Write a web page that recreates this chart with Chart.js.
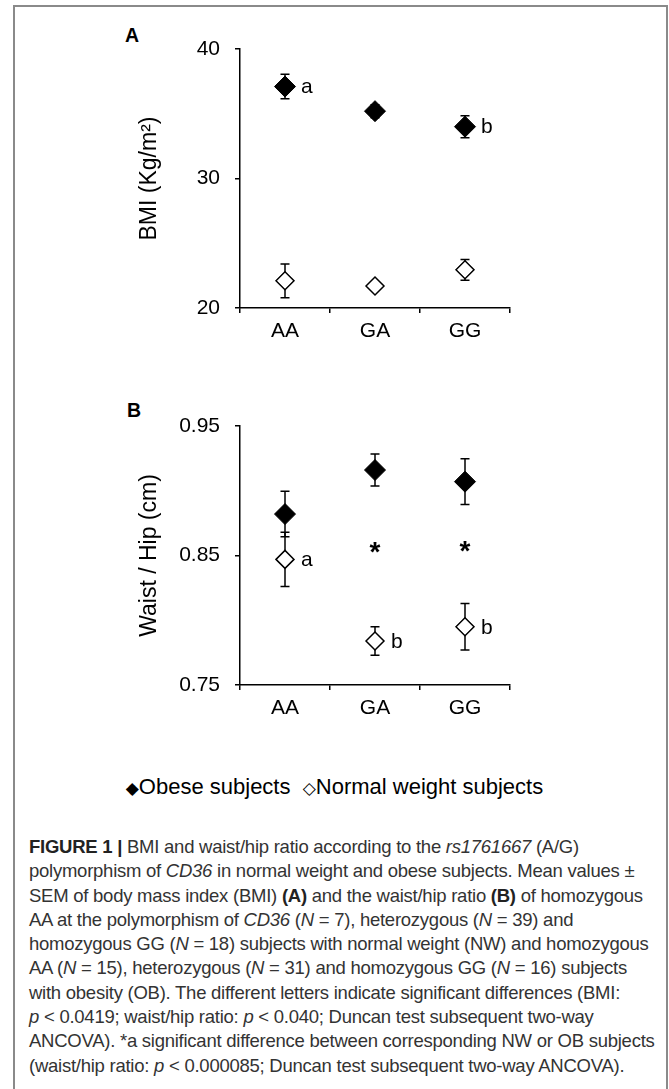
<!DOCTYPE html>
<html>
<head>
<meta charset="utf-8">
<script src="https://cdn.jsdelivr.net/npm/chart.js@4"></script>
<style>
  body { margin: 0; background: #fff; font-family: "Liberation Sans", Arial, sans-serif; }
  #page { position: relative; width: 669px; height: 1089px; overflow: hidden; background: #fff; }
  #frame { position: absolute; left: 13px; top: 5px; width: 655px; height: 1120px; border: 2px solid #8a8a8a; box-sizing: border-box; }
  .panel { position: absolute; left: 0; }
  .letter { position: absolute; font-weight: bold; font-size: 19.5px; line-height: 20px; color: #000; }
  #legend { position: absolute; top: 774px; left: 0; width: 669px; text-align: center; font-size: 22px; line-height: 26px; color: #000; white-space: nowrap; }
  #legend span.sym { font-family: "DejaVu Sans", sans-serif; font-size: 17px; }
  #caption { position: absolute; left: 29px; top: 835px; font-size: 18.5px; letter-spacing: -0.25px; line-height: 24.3px; color: #333; white-space: nowrap; }
  #caption b { color: #222; }
</style>
</head>
<body>
<div id="page">
  <div id="frame"></div>
  <div class="letter" style="left:125px;top:25px">A</div>
  <div class="letter" style="left:127px;top:400px">B</div>
  <canvas id="chartA" class="panel" width="669" height="360" style="top:0"></canvas>
  <canvas id="chartB" class="panel" width="669" height="360" style="top:377px"></canvas>
  <div id="legend"><span class="sym">◆</span>Obese subjects&nbsp;&nbsp;<span class="sym">◇</span>Normal weight subjects</div>
  <div id="caption">
    <b>FIGURE 1 |</b> BMI and waist/hip ratio according to the <i>rs1761667</i> (A/G)<br>
    polymorphism of <i>CD36</i> in normal weight and obese subjects. Mean values ±<br>
    SEM of body mass index (BMI) <b>(A)</b> and the waist/hip ratio <b>(B)</b> of homozygous<br>
    AA at the polymorphism of <i>CD36</i> (<i>N</i> = 7), heterozygous (<i>N</i> = 39) and<br>
    homozygous GG (<i>N</i> = 18) subjects with normal weight (NW) and homozygous<br>
    AA (<i>N</i> = 15), heterozygous (<i>N</i> = 31) and homozygous GG (<i>N</i> = 16) subjects<br>
    with obesity (OB). The different letters indicate significant differences (BMI:<br>
    <i>p</i> &lt; 0.0419; waist/hip ratio: <i>p</i> &lt; 0.040; Duncan test subsequent two-way<br>
    ANCOVA). *a significant difference between corresponding NW or OB subjects<br>
    (waist/hip ratio: <i>p</i> &lt; 0.000085; Duncan test subsequent two-way ANCOVA).
  </div>
</div>
<script>
  // data
  const GENOTYPES = ['AA', 'GA', 'GG'];

  const BMI_OBESE = [37.1, 35.2, 34.0];
  const BMI_OBESE_SEM = [0.95, 0.5, 0.85];
  const BMI_NORMAL = [22.1, 21.7, 22.95];
  const BMI_NORMAL_SEM = [1.3, 0.3, 0.8];
  const BMI_OBESE_LETTERS = ['a', '', 'b'];
  const BMI_NORMAL_LETTERS = ['', '', ''];
  const BMI_STARS = ['', '', ''];
  const BMI_TICKS = [20, 30, 40];

  const WHR_OBESE = [0.882, 0.916, 0.907];
  const WHR_OBESE_SEM = [0.0176, 0.0124, 0.0177];
  const WHR_NORMAL = [0.847, 0.784, 0.795];
  const WHR_NORMAL_SEM = [0.021, 0.011, 0.018];
  const WHR_OBESE_LETTERS = ['', '', ''];
  const WHR_NORMAL_LETTERS = ['a', 'b', 'b'];
  const WHR_STARS = ['', '*', '*'];
  const WHR_TICKS = [0.75, 0.85, 0.95];

  const FONT = 'Liberation Sans';

  // error bars under the markers, letters and stars on top
  const marksPlugin = {
    id: 'marks',
    beforeDatasetsDraw(chart) {
      const ctx = chart.ctx;
      const y = chart.scales.y;
      ctx.save();
      ctx.strokeStyle = '#000';
      ctx.lineWidth = 1.5;
      chart.data.datasets.forEach((ds, di) => {
        const meta = chart.getDatasetMeta(di);
        ds.data.forEach((v, i) => {
          const e = ds.errors[i];
          const px = meta.data[i].x;
          const top = y.getPixelForValue(v + e);
          const bot = y.getPixelForValue(v - e);
          ctx.beginPath();
          ctx.moveTo(px, top); ctx.lineTo(px, bot);
          ctx.moveTo(px - 4.5, top); ctx.lineTo(px + 4.5, top);
          ctx.moveTo(px - 4.5, bot); ctx.lineTo(px + 4.5, bot);
          ctx.stroke();
        });
      });
      ctx.restore();
    },
    afterDatasetsDraw(chart, args, opts) {
      const ctx = chart.ctx;
      const y = chart.scales.y;
      ctx.save();
      ctx.fillStyle = '#000';
      ctx.font = `21px "${FONT}"`;
      ctx.textBaseline = 'middle';
      ctx.textAlign = 'left';
      chart.data.datasets.forEach((ds, di) => {
        const meta = chart.getDatasetMeta(di);
        ds.letters.forEach((l, i) => {
          if (!l) return;
          const p = meta.data[i];
          ctx.fillText(l, p.x + 16, p.y + 1);
        });
      });
      ctx.textAlign = 'center';
      ctx.font = `bold 28px "${FONT}"`;
      const a = chart.data.datasets[0].data, b = chart.data.datasets[1].data;
      (opts.stars || []).forEach((s, i) => {
        if (!s) return;
        const px = chart.getDatasetMeta(0).data[i].x;
        ctx.fillText(s, px, y.getPixelForValue((a[i] + b[i]) / 2) - 2);
      });
      ctx.restore();
    }
  };

  function makeChart(id, cfg) {
    return new Chart(document.getElementById(id), {
      type: 'line',
      data: {
        labels: GENOTYPES,
        datasets: [
          { label: 'Obese subjects', data: cfg.obese, errors: cfg.obeseSem, letters: cfg.obeseLetters,
            showLine: false, pointStyle: 'rectRot', pointRadius: 10.5, pointBackgroundColor: '#000',
            pointBorderColor: '#000', pointBorderWidth: 1 },
          { label: 'Normal weight subjects', data: cfg.normal, errors: cfg.normalSem, letters: cfg.normalLetters,
            showLine: false, pointStyle: 'rectRot', pointRadius: 9, pointBackgroundColor: '#fff',
            pointBorderColor: '#000', pointBorderWidth: 1.5 }
        ]
      },
      options: {
        responsive: false,
        animation: false,
        layout: { padding: { top: 49, right: 159, left: 0, bottom: 0 } },
        plugins: {
          legend: { display: false },
          tooltip: { enabled: false },
          marks: { stars: cfg.stars }
        },
        scales: {
          x: {
            type: 'category',
            offset: true,
            grid: { offset: true, drawOnChartArea: false, drawTicks: true, tickLength: 5, color: '#000', lineWidth: 1.5 },
            border: { display: true, color: '#000', width: 1.5 },
            ticks: { color: '#000', font: { family: FONT, size: 21 }, padding: 6 },
            afterFit: s => { s.height = 52; }
          },
          y: {
            min: cfg.min, max: cfg.max,
            grid: { drawOnChartArea: false, drawTicks: true, tickLength: 5, color: '#000', lineWidth: 1.5 },
            border: { display: true, color: '#000', width: 1.5 },
            ticks: { color: '#000', font: { family: FONT, size: 21 }, padding: 15, callback: cfg.fmt },
            afterBuildTicks: s => { s.ticks = cfg.ticks.map(v => ({ value: v })); },
            title: { display: true, text: cfg.title, color: '#000', font: { family: FONT, size: 23 },
                     padding: { top: 136, bottom: 0 } },
            afterFit: s => { s.width = 240; }
          }
        }
      },
      plugins: [marksPlugin]
    });
  }

  makeChart('chartA', {
    obese: BMI_OBESE, obeseSem: BMI_OBESE_SEM, obeseLetters: BMI_OBESE_LETTERS,
    normal: BMI_NORMAL, normalSem: BMI_NORMAL_SEM, normalLetters: BMI_NORMAL_LETTERS,
    stars: BMI_STARS, ticks: BMI_TICKS, min: 20, max: 40,
    fmt: v => String(v), title: 'BMI (Kg/m²)'
  });

  makeChart('chartB', {
    obese: WHR_OBESE, obeseSem: WHR_OBESE_SEM, obeseLetters: WHR_OBESE_LETTERS,
    normal: WHR_NORMAL, normalSem: WHR_NORMAL_SEM, normalLetters: WHR_NORMAL_LETTERS,
    stars: WHR_STARS, ticks: WHR_TICKS, min: 0.75, max: 0.95,
    fmt: v => v.toFixed(2), title: 'Waist / Hip (cm)'
  });
</script>
</body>
</html>
